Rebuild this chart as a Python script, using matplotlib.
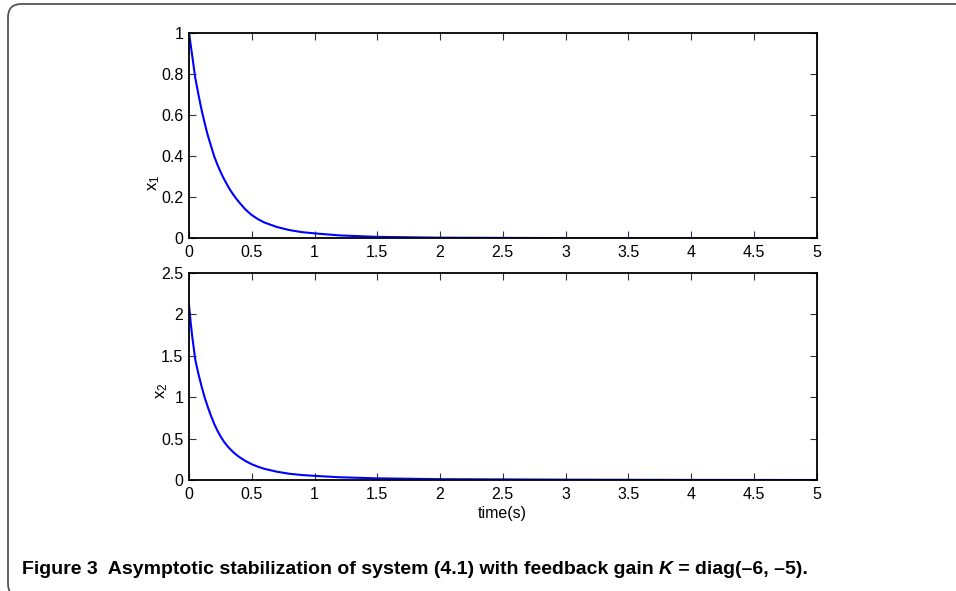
import numpy as np
import matplotlib
matplotlib.use("Agg")
import matplotlib.pyplot as plt
from matplotlib.patches import FancyBboxPatch

plt.rcParams['font.family'] = ['Liberation Sans', 'DejaVu Sans']
plt.rcParams['mathtext.default'] = 'regular'

# values
t = [0, 0.0125, 0.025, 0.05, 0.075, 0.1, 0.125, 0.15, 0.175, 0.2, 0.225, 0.25, 0.275,
     0.3, 0.325, 0.35, 0.375, 0.4, 0.45, 0.5, 0.55, 0.6, 0.7, 0.8, 0.9, 1.0, 1.2, 1.5,
     2, 3, 4, 5]
x1 = [1.0, 0.945, 0.89, 0.78, 0.70, 0.625, 0.56, 0.5, 0.45, 0.40, 0.36, 0.325, 0.293,
      0.265, 0.238, 0.215, 0.194, 0.175, 0.14, 0.113, 0.093, 0.077, 0.055, 0.04, 0.03,
      0.024, 0.014, 0.007, 0.003, 0.001, 0.0, 0.0]
x2 = [2.11, 1.91, 1.74, 1.45, 1.28, 1.13, 0.995, 0.88, 0.775, 0.68, 0.60, 0.53, 0.47,
      0.42, 0.377, 0.34, 0.307, 0.278, 0.229, 0.19, 0.16, 0.135, 0.10, 0.075, 0.06,
      0.05, 0.033, 0.02, 0.01, 0.004, 0.001, 0.0]

xticks = [0, 0.5, 1, 1.5, 2, 2.5, 3, 3.5, 4, 4.5, 5]
xticklabels = ['0', '0.5', '1', '1.5', '2', '2.5', '3', '3.5', '4', '4.5', '5']
y1ticks = [0, 0.2, 0.4, 0.6, 0.8, 1]
y1ticklabels = ['0', '0.2', '0.4', '0.6', '0.8', '1']
y2ticks = [0, 0.5, 1, 1.5, 2, 2.5]
y2ticklabels = ['0', '0.5', '1', '1.5', '2', '2.5']

W, H = 956, 591
fig = plt.figure(figsize=(W / 100, H / 100), dpi=100)

# rounded frame around the figure
frame = FancyBboxPatch((8 / W, -6 / H), 1.2, (H - 4 + 6) / H,
                       boxstyle="round,pad=0,rounding_size=0.014",
                       transform=fig.transFigure, fill=False,
                       edgecolor='#555555', linewidth=1.3, mutation_aspect=W / H)
fig.patches.append(frame)

left, right = 189 / W, 816.5 / W
ax1 = fig.add_axes([left, 1 - 238.3 / H, right - left, 205.6 / H])
ax2 = fig.add_axes([left, 1 - 480 / H, right - left, 207.3 / H])

for ax, y, yt, ytl, lab, lx, ly in [(ax1, x1, y1ticks, y1ticklabels, '$x_1$', -0.043, 0.27),
                                    (ax2, x2, y2ticks, y2ticklabels, '$x_2$', -0.031, 0.43)]:
    ax.plot(t, y, color='#0000ff', linewidth=1.5)
    ax.set_xlim(0, 5)
    ax.set_ylim(yt[0], yt[-1])
    ax.set_xticks(xticks)
    ax.set_xticklabels(xticklabels)
    ax.set_yticks(yt)
    ax.set_yticklabels(ytl)
    ax.tick_params(direction='in', length=5, width=0.8, top=True, right=True,
                   labelsize=11.5, pad=5, color='#333333')
    ax.tick_params(axis='y', pad=4)
    for s in ax.spines.values():
        s.set_linewidth(1.3)
    ax.set_ylabel(lab, fontsize=12)
    ax.yaxis.set_label_coords(lx, ly)

ax2.set_xlabel('time(s)', fontsize=11.5, labelpad=3)

# caption
cap_y = 1 - 570 / H
fam = ['Liberation Sans']
fig.canvas.draw()
r = fig.canvas.get_renderer()
t1 = fig.text(22 / W, cap_y, 'Figure 3  Asymptotic stabilization of system (4.1) with feedback gain ',
              fontsize=14, fontweight='bold', va='center', family=fam)
bb = t1.get_window_extent(r)
t2 = fig.text(bb.x1 / W, cap_y, 'K', fontsize=14, fontweight='bold', style='italic',
              va='center', family=fam)
bb = t2.get_window_extent(r)
fig.text(bb.x1 / W, cap_y, ' = diag(\u20136, \u20135).', fontsize=14, fontweight='bold',
         va='center', family=fam)

fig.savefig('out.png', dpi=100)
